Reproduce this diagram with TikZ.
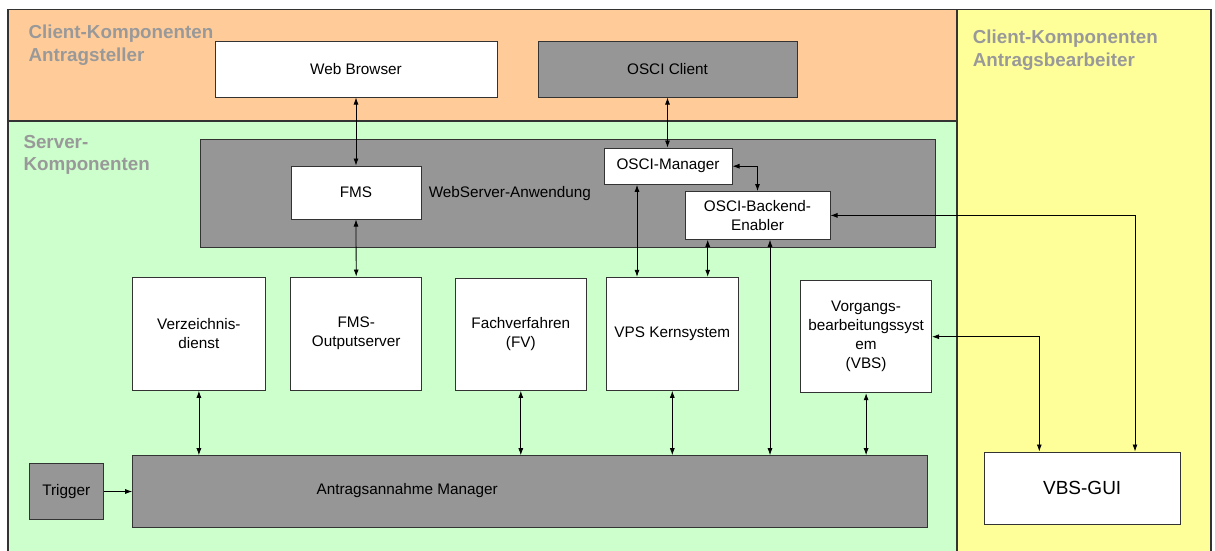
\documentclass[tikz,border=0pt]{standalone}
\usepackage{fontspec}
\setmainfont{Liberation Sans}
\usetikzlibrary{arrows.meta}
\definecolor{clientorange}{RGB}{255,204,153}
\definecolor{servergreen}{RGB}{204,255,204}
\definecolor{clientyellow}{RGB}{255,255,153}
\definecolor{boxgray}{RGB}{150,150,150}
\definecolor{labelgray}{RGB}{153,153,153}
\definecolor{edgegray}{RGB}{51,51,51}

\begin{document}
\begin{tikzpicture}[x=1pt,y=-1pt,
  region/.style={draw=edgegray, line width=1.3pt},
  box/.style={draw=edgegray, line width=1pt, inner sep=0pt, align=center,
    font=\fontsize{15.3}{19}\selectfont, text=black},
  wbox/.style={box, fill=white},
  gbox/.style={box, fill=boxgray},
  zone/.style={font=\fontsize{18.8}{22}\selectfont\bfseries, text=labelgray,
    anchor=base west, inner sep=0pt},
  plain/.style={font=\fontsize{15.3}{19}\selectfont, inner sep=0pt},
  link/.style={draw=black, line width=0.8pt, {Latex[length=7pt,width=5pt]}-{Latex[length=7pt,width=5pt]}},
  oneway/.style={draw=black, line width=0.8pt, -{Latex[length=7pt,width=5pt]}}
]
\clip (0,0) rectangle (1215,550);
\fill[white] (0,0) rectangle (1215,550);

% zones
\draw[region, fill=clientorange] (8,9.3) rectangle (957,121);
\draw[region, fill=servergreen] (8,121) rectangle (957,560);
\draw[region, fill=clientyellow] (957,9.3) rectangle (1211,560);

\node[zone] (lblA1) at (28.3,38.4) {Client-Komponenten};
\node[zone] (lblA2) at (28.3,61) {Antragsteller};
\node[zone] (lblS1) at (23.3,148.4) {Server-};
\node[zone] (lblS2) at (23.3,170) {Komponenten};
\node[zone] (lblB1) at (972.7,43.5) {Client-Komponenten};
\node[zone] (lblB2) at (972.7,66.5) {Antragsbearbeiter};

% client side (applicant)
\node[wbox, minimum width=282pt, minimum height=56pt] (browser) at (356,69) {Web Browser};
\node[gbox, minimum width=259pt, minimum height=56pt] (oscic) at (667.5,69) {OSCI Client};

% web server application
\node[gbox, minimum width=735pt, minimum height=108pt] (websrv) at (567.5,193.3) {};
\node[plain, anchor=west] (websrvlabel) at (428.6,193.3) {WebServer-Anwendung};
\node[wbox, minimum width=130pt, minimum height=53pt] (fms) at (356,192.5) {FMS};
\node[wbox, minimum width=128pt, minimum height=36.3pt] (mgr) at (668,166.2) {OSCI-Manager};
\node[wbox, minimum width=145pt, minimum height=47.7pt, font=\fontsize{15.3}{18.3}\selectfont] (backend) at (757.5,215.4) {OSCI-Backend-\\Enabler};

% server components
\node[wbox, minimum width=132.3pt, minimum height=113.3pt] (verz) at (198.9,333.7) {Verzeichnis-\\dienst};
\node[wbox, minimum width=131pt, minimum height=113.3pt] (fmsout) at (356.2,333.7) {FMS-\\Outputserver};
\node[wbox, minimum width=131pt, minimum height=112.3pt] (fach) at (520.8,334.2) {Fachverfahren\\(FV)};
\node[wbox, minimum width=132pt, minimum height=113pt] (vps) at (672.3,333.8) {VPS Kernsystem};
\node[wbox, minimum width=130.8pt, minimum height=112pt] (vbs) at (866.1,336.7) {Vorgangs-\\bearbeitungssyst\\em\\(VBS)};

\node[gbox, minimum width=795pt, minimum height=71.6pt] (am) at (530.2,491.5) {};
\node[plain] (amlabel) at (407.2,490.7) {Antragsannahme Manager};
\node[gbox, minimum width=74.3pt, minimum height=55.6pt] (trigger) at (66.2,491.5) {Trigger};

% client side (case worker)
\node[wbox, minimum width=195.7pt, minimum height=72.6pt, font=\fontsize{19}{23}\selectfont] (gui) at (1082.2,488.3) {VBS-GUI};

% connector columns
\coordinate (xmv) at (637,0);
\coordinate (xbv) at (707.7,0);
\coordinate (xba) at (770,0);
\coordinate (xbg) at (1135,0);
\coordinate (xvg) at (1039.3,0);

% connectors
\draw[link] (browser.south) -- (fms.north);
\draw[link] (oscic.south) -- (oscic.south |- mgr.north);
\draw[link] (mgr.east) -| (backend.north);
\draw[link] (fms.south) -- (fmsout.north);
\draw[link] (mgr.south -| xmv) -- (vps.north -| xmv);
\draw[link] (backend.south -| xbv) -- (vps.north -| xbv);
\draw[link] (backend.south -| xba) -- (am.north -| xba);
\draw[link] (verz.south) -- (verz.south |- am.north);
\draw[link] (fach.south) -- (fach.south |- am.north);
\draw[link] (vps.south) -- (vps.south |- am.north);
\draw[link] (vbs.south) -- (vbs.south |- am.north);
\draw[oneway] (trigger.east) -- (am.west);
\draw[link] (backend.east) -| (gui.north -| xbg);
\draw[link] (vbs.east) -| (gui.north -| xvg);
\end{tikzpicture}
\end{document}
